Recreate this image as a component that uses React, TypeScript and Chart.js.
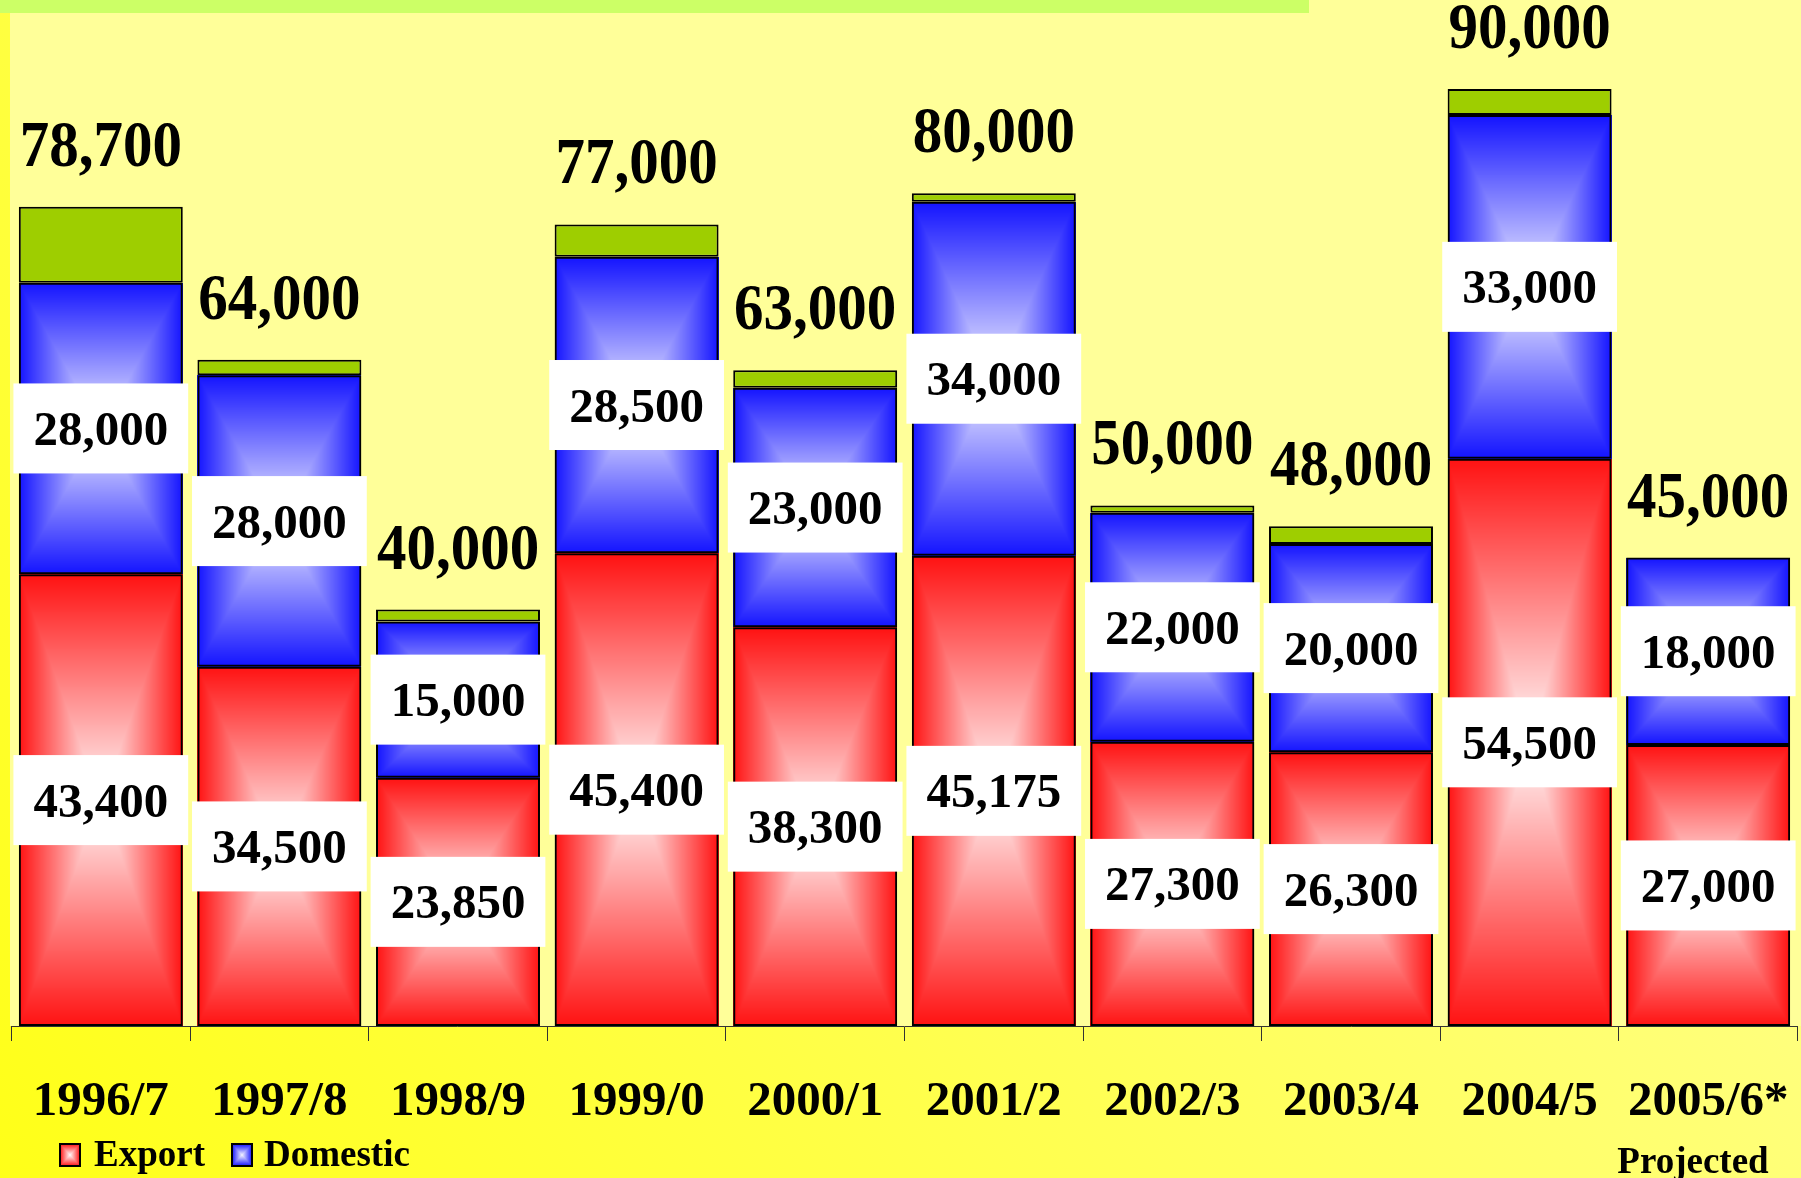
import { useEffect, useRef } from "react";
import { Chart, registerables } from "chart.js";

Chart.register(...registerables);

const categories = ["1996/7", "1997/8", "1998/9", "1999/0", "2000/1", "2001/2", "2002/3", "2003/4", "2004/5", "2005/6*"];
const exportValues = [43400, 34500, 23850, 45400, 38300, 45175, 27300, 26300, 54500, 27000];
const domesticValues = [28000, 28000, 15000, 28500, 23000, 34000, 22000, 20000, 33000, 18000];
const otherValues: (number | null)[] = [7300, 1500, 1150, 3100, 1700, 825, 700, 1700, 2500, null];
const totalValues = [78700, 64000, 40000, 77000, 63000, 80000, 50000, 48000, 90000, 45000];
const seriesNames = ["Export", "Domestic", "Other"];
const footnote = "Projected";

const FONT = '"Liberation Serif", "Times New Roman", serif';
const RED_EDGE: [number, number, number] = [255, 18, 18];
const RED_CENTER: [number, number, number] = [255, 250, 250];
const BLUE_EDGE: [number, number, number] = [20, 20, 255];
const BLUE_CENTER: [number, number, number] = [244, 244, 255];

function gradCanvas(w: number, h: number, edge: number[], center: number[]) {
  const W = Math.max(1, Math.round(w));
  const H = Math.max(1, Math.round(h));
  const c = document.createElement("canvas");
  c.width = W;
  c.height = H;
  const g = c.getContext("2d")!;
  const img = g.createImageData(W, H);
  const hw = W / 2;
  const hh = H / 2;
  for (let j = 0; j < H; j++) {
    for (let i = 0; i < W; i++) {
      const dx = Math.abs(i + 0.5 - hw) / hw;
      const dy = Math.abs(j + 0.5 - hh) / hh;
      const t = Math.min(1, Math.max(dx, dy));
      const k = (j * W + i) * 4;
      img.data[k] = center[0] + (edge[0] - center[0]) * t;
      img.data[k + 1] = center[1] + (edge[1] - center[1]) * t;
      img.data[k + 2] = center[2] + (edge[2] - center[2]) * t;
      img.data[k + 3] = 255;
    }
  }
  g.putImageData(img, 0, 0);
  return c;
}

const fmt = (v: number) => v.toLocaleString("en-US");

const decorPlugin = {
  id: "decor",
  beforeDraw(chart: any) {
    const { ctx, width, height, chartArea } = chart;
    ctx.save();
    const g = ctx.createLinearGradient(0, height, width, 0);
    g.addColorStop(0, "#FFFF18");
    g.addColorStop(1, "#FFFFA0");
    ctx.fillStyle = g;
    ctx.fillRect(0, 0, width, height);
    ctx.fillStyle = "#FFFF99";
    ctx.fillRect(10, 0, width - 10, chartArea.bottom);
    ctx.fillStyle = "#CCFF66";
    ctx.fillRect(0, 0, 1309, 13);
    ctx.restore();
  },
  beforeDatasetsDraw(chart: any) {
    const { ctx } = chart;
    const specs = [
      [RED_EDGE, RED_CENTER],
      [BLUE_EDGE, BLUE_CENTER],
    ];
    ctx.save();
    specs.forEach(([edge, center], di) => {
      const meta = chart.getDatasetMeta(di);
      meta.data.forEach((el: any) => {
        const l = el.x - el.width / 2;
        const t = Math.min(el.y, el.base);
        const b = Math.max(el.y, el.base);
        if (b - t < 1) return;
        const c = gradCanvas(el.width, b - t, edge, center);
        ctx.drawImage(c, l, t, el.width, b - t);
      });
    });
    ctx.restore();
  },
  afterDatasetsDraw(chart: any) {
    const { ctx } = chart;
    ctx.save();
    ctx.font = `bold 49px ${FONT}`;
    ctx.textAlign = "center";
    ctx.textBaseline = "alphabetic";
    [exportValues, domesticValues].forEach((vals, di) => {
      const meta = chart.getDatasetMeta(di);
      meta.data.forEach((el: any, i: number) => {
        const txt = fmt(vals[i]);
        const cy = (el.y + el.base) / 2;
        const tw = ctx.measureText(txt).width;
        const bw = tw + 40;
        const bh = 90;
        ctx.fillStyle = "#FFFFFF";
        ctx.fillRect(el.x - bw / 2, cy - bh / 2, bw, bh);
        ctx.fillStyle = "#000000";
        ctx.fillText(txt, el.x, cy + 16.5);
      });
    });
    ctx.font = `bold 59px ${FONT}`;
    totalValues.forEach((tot, i) => {
      let top = Infinity;
      let x = 0;
      chart.data.datasets.forEach((ds: any, di: number) => {
        if (ds.data[i] == null) return;
        const el = chart.getDatasetMeta(di).data[i] as any;
        if (el.y < top) {
          top = el.y;
          x = el.x;
        }
      });
      ctx.save();
      ctx.translate(x, top - 41);
      ctx.scale(1, 1.12);
      ctx.fillStyle = "#000000";
      ctx.fillText(fmt(tot), 0, 0);
      ctx.restore();
    });
    ctx.restore();
  },
  afterDraw(chart: any) {
    const { ctx } = chart;
    ctx.save();
    const items = [
      { name: seriesNames[0], sx: 60, tx: 94, edge: RED_EDGE, center: RED_CENTER },
      { name: seriesNames[1], sx: 232, tx: 264, edge: BLUE_EDGE, center: BLUE_CENTER },
    ];
    ctx.font = `bold 37px ${FONT}`;
    ctx.textAlign = "left";
    ctx.textBaseline = "alphabetic";
    items.forEach((it) => {
      const c = gradCanvas(20, 22, it.edge, it.center);
      ctx.drawImage(c, it.sx, 1144);
      ctx.strokeStyle = "#000";
      ctx.lineWidth = 2;
      ctx.strokeRect(it.sx, 1144, 20, 22);
      ctx.fillStyle = "#000";
      ctx.fillText(it.name, it.tx, 1166);
    });
    ctx.textAlign = "center";
    ctx.fillText(footnote, 1693, 1173);
    ctx.restore();
  },
};

export default function App() {
  const ref = useRef<HTMLCanvasElement | null>(null);
  useEffect(() => {
    document.body.style.margin = "0";
    document.body.style.overflow = "hidden";
    const canvas = ref.current!;
    const common = {
      borderColor: "#000000",
      borderWidth: 2,
      borderSkipped: false as const,
      stack: "s",
      barPercentage: 0.918,
      categoryPercentage: 1,
    };
    const chart = new Chart(canvas, {
      type: "bar",
      data: {
        labels: categories,
        datasets: [
          { label: seriesNames[0], data: exportValues, backgroundColor: "rgba(0,0,0,0)", ...common },
          { label: seriesNames[1], data: domesticValues, backgroundColor: "rgba(0,0,0,0)", ...common },
          { label: seriesNames[2], data: otherValues, backgroundColor: "#9ECE00", ...common },
        ],
      },
      options: {
        responsive: false,
        animation: false,
        layout: { padding: { left: 11.5, right: 3.5, top: 37, bottom: 0 } },
        plugins: {
          legend: { display: false },
          tooltip: { enabled: false },
          title: { display: false },
        },
        scales: {
          x: {
            stacked: true,
            offset: true,
            grid: { drawOnChartArea: false, drawTicks: true, tickLength: 15, color: "#333333", lineWidth: 1, offset: true },
            border: { display: true, color: "#333333", width: 1 },
            ticks: {
              color: "#000000",
              font: { family: FONT, size: 49, weight: "bold" },
              padding: 32,
              maxRotation: 0,
              autoSkip: false,
            },
            afterFit: (s: any) => {
              s.height = 152;
              s.paddingLeft = 0;
              s.paddingRight = 0;
            },
          },
          y: { stacked: true, display: false, min: 0, max: 95000 },
        },
      },
      plugins: [decorPlugin],
    } as any);
    return () => chart.destroy();
  }, []);
  return (
    <canvas
      ref={ref}
      width={1801}
      height={1178}
      style={{ position: "absolute", left: 0, top: 0, width: 1801, height: 1178, display: "block" }}
    />
  );
}
